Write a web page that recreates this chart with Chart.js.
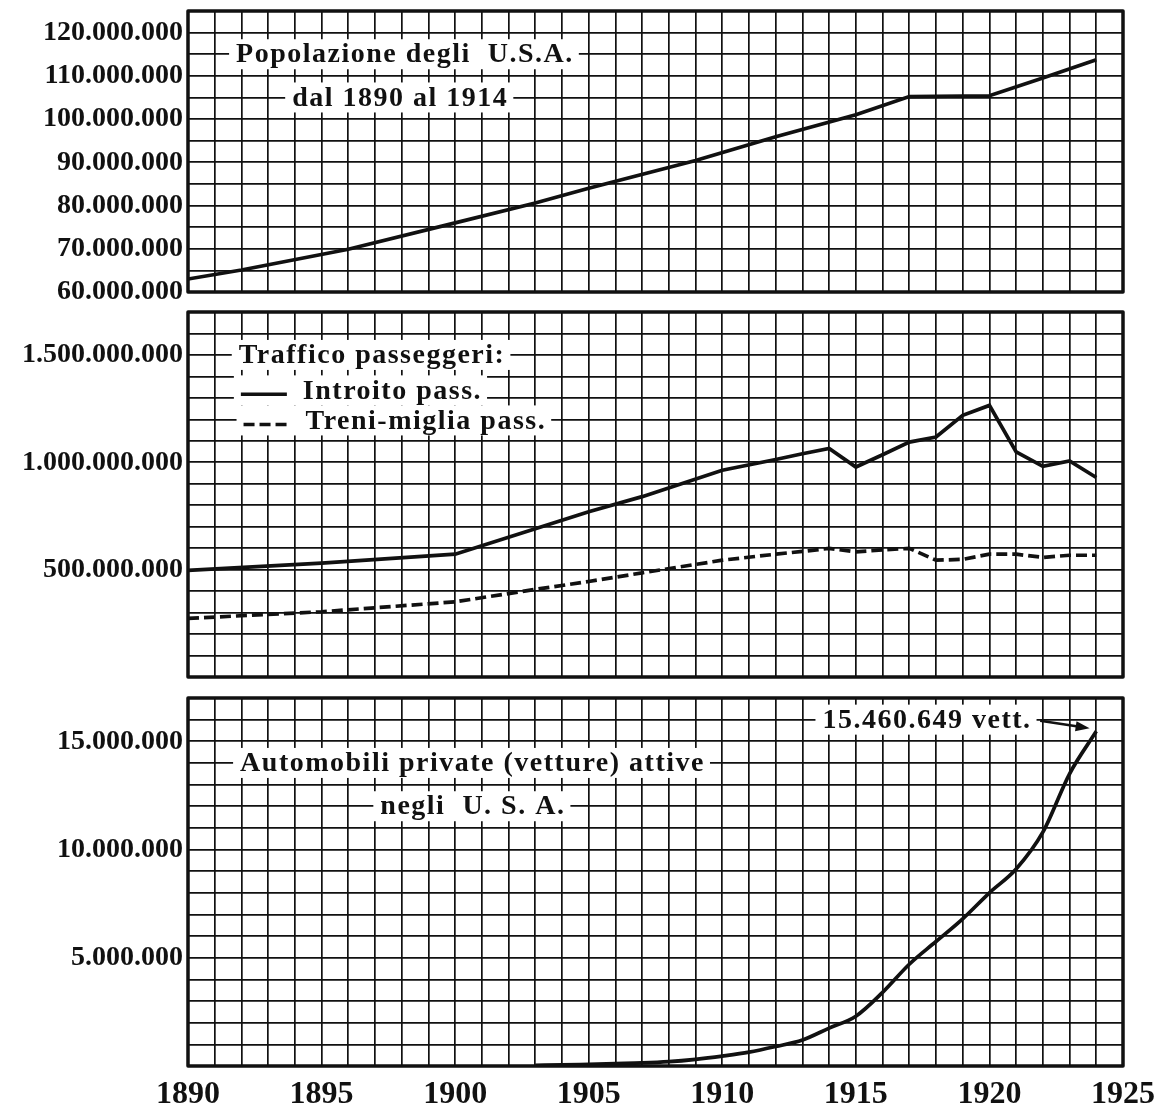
<!DOCTYPE html>
<html>
<head>
<meta charset="utf-8">
<script src="https://cdn.jsdelivr.net/npm/chart.js@4.4.1/dist/chart.umd.min.js"></script>
<style>
  html, body { margin: 0; padding: 0; background: #fff; }
  #page { position: relative; width: 1158px; height: 1103px; overflow: hidden; }
  canvas { position: absolute; left: 0; }
</style>
</head>
<body>
<div id="page">
  <canvas id="chartPop" width="1158" height="361" style="top:-29px"></canvas>
  <canvas id="chartPass" width="1158" height="445" style="top:272px"></canvas>
  <canvas id="chartAuto" width="1158" height="445" style="top:658px"></canvas>
</div>
<script>
// popolazione (milioni)
const popYears = [1890, 1892, 1896, 1900, 1903, 1905, 1909, 1912, 1915, 1917, 1920, 1922, 1924];
const popValues = [63.0, 65.1, 69.9, 76.0, 80.6, 84.0, 90.4, 95.9, 101.0, 105.2, 105.4, 109.5, 113.7];

// traffico passeggeri (milioni)
const passYears = [1890, 1895, 1900, 1903, 1905, 1907, 1910, 1912, 1913, 1914, 1915, 1916, 1917, 1918, 1919, 1920, 1921, 1922, 1923, 1924];
const introito = [497, 530, 572, 690, 770, 840, 963, 1013, 1040, 1064, 978, 1035, 1094, 1118, 1219, 1265, 1048, 981, 1006, 929];
const treniMiglia = [273, 304, 350, 408, 445, 485, 544, 572, 585, 599, 583, 592, 599, 544, 548, 572, 572, 557, 567, 567];

// automobili private (milioni)
const autoYears = [1903, 1904, 1905, 1906, 1907, 1908, 1909, 1910, 1911, 1912, 1913, 1914, 1915, 1916, 1917, 1918, 1919, 1920, 1921, 1922, 1923, 1924];
const autoValues = [0.03, 0.05, 0.08, 0.11, 0.14, 0.2, 0.31, 0.46, 0.64, 0.9, 1.2, 1.75, 2.3, 3.4, 4.7, 5.75, 6.8, 8.0, 9.1, 10.8, 13.5, 15.46];

const xTicks = [1890, 1895, 1900, 1905, 1910, 1915, 1920, 1925];
const M = 1e6;

const INK = '#111';
const FONT = "'Liberation Serif', 'Times New Roman', serif";
Chart.defaults.font.family = FONT;
Chart.defaults.font.weight = 'bold';
Chart.defaults.color = INK;

function dots(v) {
  return Math.round(v).toString().replace(/\B(?=(\d{3})+(?!\d))/g, '.');
}

function pts(xs, ys) {
  return xs.map((x, i) => ({ x: x, y: ys[i] * M }));
}

const frame = {
  id: 'frame',
  afterDraw(chart) {
    const { ctx, chartArea: a } = chart;
    ctx.save();
    ctx.lineWidth = 3.5;
    ctx.strokeStyle = INK;
    ctx.lineJoin = 'round';
    ctx.strokeRect(a.left, a.top, a.right - a.left, a.bottom - a.top);
    ctx.restore();
  }
};

// scritte con fondo bianco sopra la griglia
const notes = {
  id: 'notes',
  beforeDatasetsDraw(chart, args, opts) {
    const { ctx, scales: { x, y } } = chart;
    ctx.save();
    ctx.font = 'bold ' + opts.size + 'px ' + FONT;
    ctx.letterSpacing = opts.spacing + 'px';
    ctx.textBaseline = 'middle';
    (opts.items || []).forEach(n => {
      const px = x.getPixelForValue(n.x);
      const py = y.getPixelForValue(n.y * M);
      const w = ctx.measureText(n.text).width;
      const left = n.sample ? px - 62 : px;
      ctx.fillStyle = '#fff';
      ctx.fillRect(left - 7, py - 15, (px - left) + w + 12, 30);
      if (n.sample) {
        ctx.strokeStyle = INK;
        ctx.lineWidth = 3.5;
        ctx.setLineDash(n.sample === 'dashed' ? [11, 5] : []);
        ctx.beginPath();
        ctx.moveTo(left, py + 4);
        ctx.lineTo(px - 16, py + 4);
        ctx.stroke();
        ctx.setLineDash([]);
      }
      ctx.fillStyle = INK;
      ctx.fillText(n.text, px, py + 1);
    });
    (opts.arrows || []).forEach(r => {
      const x0 = x.getPixelForValue(r.from[0]), y0 = y.getPixelForValue(r.from[1] * M);
      const x1 = x.getPixelForValue(r.to[0]), y1 = y.getPixelForValue(r.to[1] * M);
      const ang = Math.atan2(y1 - y0, x1 - x0);
      ctx.strokeStyle = INK;
      ctx.fillStyle = INK;
      ctx.lineWidth = 2.5;
      ctx.beginPath();
      ctx.moveTo(x0, y0);
      ctx.lineTo(x1 - 10 * Math.cos(ang), y1 - 10 * Math.sin(ang));
      ctx.stroke();
      ctx.beginPath();
      ctx.moveTo(x1, y1);
      ctx.lineTo(x1 - 14 * Math.cos(ang) + 5 * Math.sin(ang), y1 - 14 * Math.sin(ang) - 5 * Math.cos(ang));
      ctx.lineTo(x1 - 14 * Math.cos(ang) - 5 * Math.sin(ang), y1 - 14 * Math.sin(ang) + 5 * Math.cos(ang));
      ctx.closePath();
      ctx.fill();
    });
    ctx.restore();
  }
};

function options(cfg) {
  return {
    responsive: false,
    animation: false,
    events: [],
    layout: { padding: { left: 0, right: 35, top: 40, bottom: cfg.bottom } },
    plugins: {
      legend: { display: false },
      tooltip: { enabled: false },
      notes: { size: 28, spacing: 1.5, items: cfg.notes, arrows: cfg.arrows || [] }
    },
    scales: {
      x: {
        type: 'linear',
        min: 1890,
        max: 1925,
        border: { display: false },
        grid: { color: INK, lineWidth: 1.7, drawTicks: false },
        ticks: {
          display: cfg.xLabels,
          stepSize: 1,
          autoSkip: false,
          maxRotation: 0,
          padding: 10,
          font: { size: 32, weight: 'bold' },
          callback: v => xTicks.includes(v) ? String(v) : ''
        },
        afterFit(s) {
          s.height = cfg.xLabels ? 37 : 0;
          s.paddingLeft = 0;
          s.paddingRight = 0;
        }
      },
      y: {
        min: cfg.min,
        max: cfg.max,
        border: { display: false },
        grid: { color: INK, lineWidth: 1.7, drawTicks: false },
        ticks: {
          stepSize: cfg.step,
          autoSkip: false,
          padding: 5,
          font: { size: 28, weight: 'bold' },
          callback: v => (v > 0 && cfg.labels.includes(v)) ? dots(v) : ''
        },
        afterFit(s) { s.width = 188; }
      }
    }
  };
}

function line(data, dashed, smooth) {
  return {
    data: data,
    borderColor: INK,
    borderWidth: 3.7,
    borderDash: dashed ? [11, 5] : [],
    pointRadius: 0,
    tension: smooth ? 0.4 : 0,
    cubicInterpolationMode: smooth ? 'monotone' : 'default',
    fill: false
  };
}

new Chart(document.getElementById('chartPop'), {
  type: 'line',
  data: { datasets: [line(pts(popYears, popValues), false, false)] },
  options: options({
    min: 60 * M, max: 125 * M, step: 5 * M, bottom: 40, xLabels: false,
    labels: [60, 70, 80, 90, 100, 110, 120].map(v => v * M),
    notes: [
      { text: 'Popolazione degli  U.S.A.', x: 1891.8, y: 115 },
      { text: 'dal 1890 al 1914', x: 1893.9, y: 105 }
    ]
  }),
  plugins: [notes, frame]
});

new Chart(document.getElementById('chartPass'), {
  type: 'line',
  data: {
    datasets: [
      line(pts(passYears, introito), false, false),
      line(pts(passYears, treniMiglia), true, false)
    ]
  },
  options: options({
    min: 0, max: 1700 * M, step: 100 * M, bottom: 40, xLabels: false,
    labels: [500, 1000, 1500].map(v => v * M),
    notes: [
      { text: 'Traffico passeggeri:', x: 1891.9, y: 1500 },
      { text: 'Introito pass.', x: 1894.3, y: 1335, sample: 'solid' },
      { text: 'Treni-miglia pass.', x: 1894.4, y: 1195, sample: 'dashed' }
    ]
  }),
  plugins: [notes, frame]
});

new Chart(document.getElementById('chartAuto'), {
  type: 'line',
  data: { datasets: [line(pts(autoYears, autoValues), false, true)] },
  options: options({
    min: 0, max: 17 * M, step: 1 * M, bottom: 0, xLabels: true,
    labels: [5, 10, 15].map(v => v * M),
    notes: [
      { text: 'Automobili private (vetture) attive', x: 1891.95, y: 14 },
      { text: 'negli  U. S. A.', x: 1897.2, y: 12 },
      { text: '15.460.649 vett.', x: 1913.75, y: 16 }
    ],
    arrows: [{ from: [1921.9, 15.95], to: [1923.75, 15.6] }]
  }),
  plugins: [notes, frame]
});
</script>
</body>
</html>
